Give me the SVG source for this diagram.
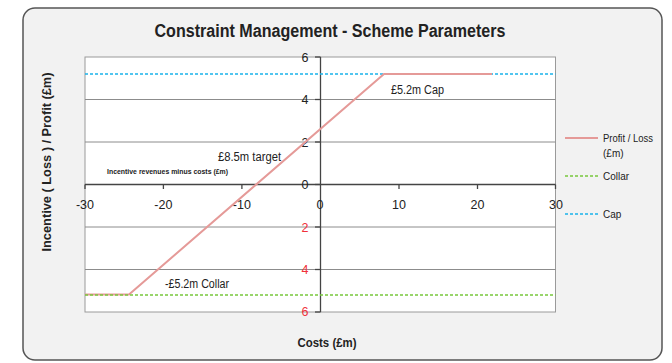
<svg xmlns="http://www.w3.org/2000/svg" width="672" height="363" viewBox="0 0 672 363">
<style>
text{font-family:"Liberation Sans",Arial,sans-serif;fill:#222}
.grid{stroke:#8c8c8c;stroke-width:1}
.axis{stroke:#444;stroke-width:1.3}
.tick{font-size:12.5px;text-anchor:middle}
.neg{fill:#f0303a}
.lbl{font-size:12px}
.leg{font-size:10px}
.profit{stroke:#e59a98;stroke-width:2;fill:none}
.collar{stroke:#78c83c;stroke-width:1.3;stroke-dasharray:3 2;fill:none}
.cap{stroke:#1ab2ea;stroke-width:1.6;stroke-dasharray:3 2;fill:none}
</style>
<rect width="672" height="363" fill="#ffffff"/>
<g id="frame">
<rect x="23" y="8" width="639" height="352" rx="12" fill="#f2f2f2" stroke="#555" stroke-width="1.5"/>
<text x="330" y="37" font-size="18" font-weight="bold" text-anchor="middle" textLength="351" lengthAdjust="spacingAndGlyphs">Constraint Management - Scheme Parameters</text>
</g>
<g id="plot">
<rect x="85" y="57" width="470.5" height="255" fill="#ffffff" stroke="#9a9a9a" stroke-width="1"/>
<line class="grid" x1="85" y1="99.5" x2="555.5" y2="99.5"/>
<line class="grid" x1="85" y1="142" x2="555.5" y2="142"/>
<line class="grid" x1="85" y1="227" x2="555.5" y2="227"/>
<line class="grid" x1="85" y1="269.5" x2="555.5" y2="269.5"/>
<line class="axis" x1="85" y1="184.5" x2="555.5" y2="184.5"/>
<line class="axis" x1="320.5" y1="57" x2="320.5" y2="312"/>
<g class="axis">
<line x1="315" y1="57" x2="320.5" y2="57"/>
<line x1="315" y1="99.5" x2="320.5" y2="99.5"/>
<line x1="315" y1="142" x2="320.5" y2="142"/>
<line x1="315" y1="184.5" x2="320.5" y2="184.5"/>
<line x1="315" y1="227" x2="320.5" y2="227"/>
<line x1="315" y1="269.5" x2="320.5" y2="269.5"/>
<line x1="315" y1="312" x2="320.5" y2="312"/>
<line x1="85" y1="184.5" x2="85" y2="189"/>
<line x1="163.4" y1="184.5" x2="163.4" y2="189"/>
<line x1="241.9" y1="184.5" x2="241.9" y2="189"/>
<line x1="399" y1="184.5" x2="399" y2="189"/>
<line x1="477.5" y1="184.5" x2="477.5" y2="189"/>
<line x1="555.5" y1="184.5" x2="555.5" y2="189"/>
</g>
<g id="ylabels">
<text class="tick" x="305" y="62">6</text>
<text class="tick" x="305" y="104">4</text>
<text class="tick" x="305" y="147">2</text>
<text class="tick" x="305" y="189">0</text>
<text class="tick neg" x="305" y="232">2</text>
<text class="tick neg" x="305" y="274">4</text>
<text class="tick neg" x="305" y="316">6</text>
</g>
<g id="xlabels">
<text class="tick" x="85" y="209">-30</text>
<text class="tick" x="163.4" y="209">-20</text>
<text class="tick" x="241.9" y="209">-10</text>
<text class="tick" x="320" y="209">0</text>
<text class="tick" x="399" y="209">10</text>
<text class="tick" x="477.5" y="209">20</text>
<text class="tick" x="556" y="209">30</text>
</g>
</g>
<g id="connectors">
<line class="cap" x1="85" y1="74" x2="555.5" y2="74"/>
<polyline class="profit" points="85,294.5 129,294.5 384,74 492,74"/>
<line class="collar" x1="85" y1="295" x2="555.5" y2="295"/>
</g>
<g id="annotations">
<text class="lbl" x="218" y="161" textLength="63" lengthAdjust="spacingAndGlyphs">£8.5m target</text>
<text x="107" y="174" font-size="7" font-weight="bold" textLength="121" lengthAdjust="spacingAndGlyphs">Incentive revenues minus costs (£m)</text>
<text class="lbl" x="391" y="94" textLength="53" lengthAdjust="spacingAndGlyphs">£5.2m Cap</text>
<text class="lbl" x="165" y="288" textLength="64" lengthAdjust="spacingAndGlyphs">-£5.2m Collar</text>
</g>
<g id="axis-titles">
<text x="327" y="347" font-size="13" font-weight="bold" text-anchor="middle" textLength="59" lengthAdjust="spacingAndGlyphs">Costs (£m)</text>
<text transform="translate(51,162) rotate(-90)" font-size="12" font-weight="bold" text-anchor="middle" textLength="179" lengthAdjust="spacingAndGlyphs">Incentive ( Loss ) / Profit (£m)</text>
</g>
<g id="legend">
<line class="profit" x1="565" y1="138" x2="598" y2="138"/>
<text class="leg" x="603" y="142" textLength="50" lengthAdjust="spacingAndGlyphs">Profit / Loss</text>
<text class="leg" x="603" y="157">(£m)</text>
<line class="collar" x1="565" y1="176" x2="598" y2="176"/>
<text class="leg" x="603" y="180">Collar</text>
<line class="cap" x1="565" y1="214" x2="598" y2="214"/>
<text class="leg" x="603" y="218">Cap</text>
</g>
</svg>
